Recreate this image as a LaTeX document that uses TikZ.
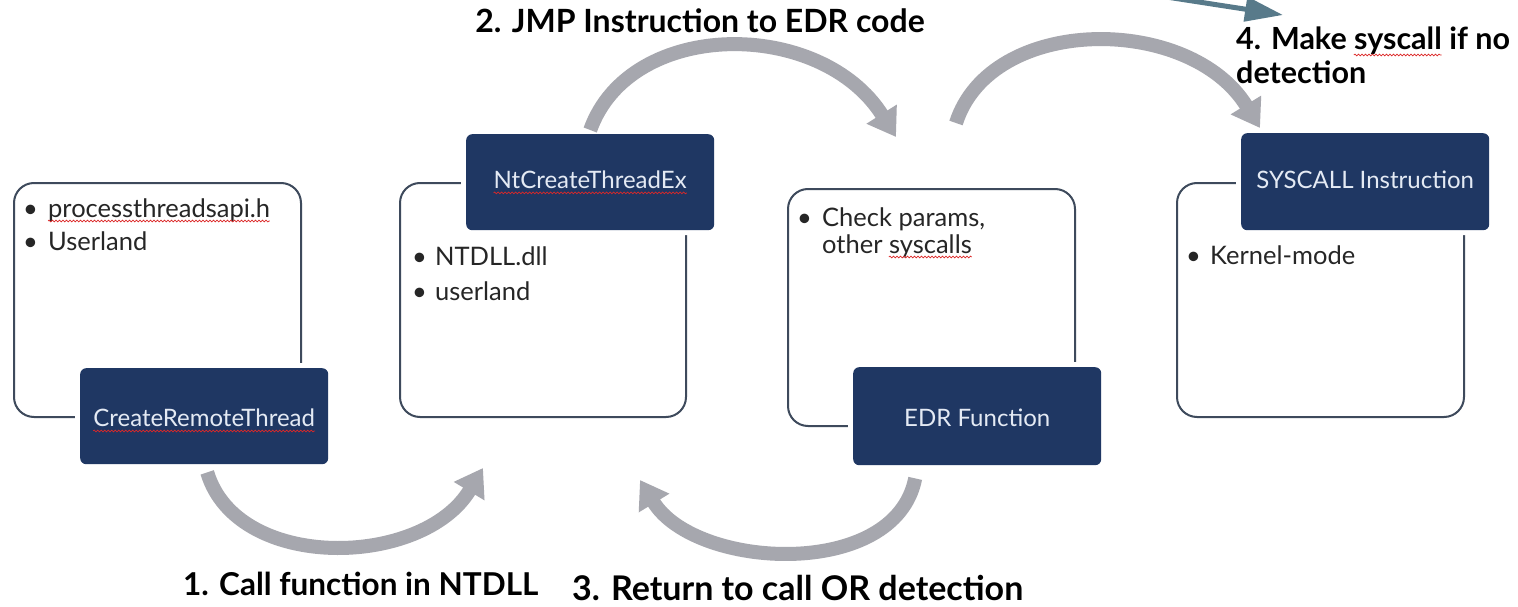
\documentclass[tikz,border=0pt]{standalone}
\usepackage{fontspec}
\setmainfont{Lato}
\usetikzlibrary{arrows.meta,calc,decorations.pathmorphing}
\definecolor{navy}{RGB}{31,55,99}
\definecolor{outl}{RGB}{62,74,92}
\definecolor{arrgray}{RGB}{166,167,174}
\definecolor{steel}{RGB}{88,122,138}
\definecolor{navytext}{RGB}{228,234,244}
\definecolor{bodytext}{RGB}{38,38,38}
\definecolor{spellred}{RGB}{220,40,40}
\newcommand\bulfont{\fontsize{25.5}{30}\selectfont}
\newcommand\navfont{\fontsize{24}{28}\selectfont}
\newcommand\labfourfont{\fontsize{30.5}{36}\selectfont\bfseries}
\newlength\wProc \newlength\wOther \newlength\wSysc \newlength\wMake \newlength\wSys
\begin{document}
\settowidth\wProc{\bulfont processthreadsapi.h}%
\settowidth\wOther{\bulfont other\ }%
\settowidth\wSysc{\bulfont syscalls}%
\settowidth\wMake{\labfourfont 4. Make\ }%
\settowidth\wSys{\labfourfont syscall}%
\begin{tikzpicture}[x=1pt,y=1pt,
  outbox/.style={draw=outl, line width=2pt, rounded corners=20pt, minimum width=287pt, minimum height=234pt, anchor=north west, inner sep=0pt},
  navbox/.style={fill=navy, rounded corners=6pt, minimum width=248pt, minimum height=96pt, anchor=north west, inner sep=0pt, preaction={draw=white, line width=10pt}},
  navtext/.style={inner sep=0pt, text=navytext, font=\navfont},
  bul/.style={anchor=base west, inner sep=0pt, text=bodytext, font=\bulfont},
  lab/.style={inner sep=0pt, text=black},
  wave/.style={draw=spellred, line width=0.7pt, decorate, decoration={snake, amplitude=0.9pt, segment length=3.5pt}},
  garrow/.style={draw=arrgray, line width=14pt, -{Triangle[width=34pt,length=27pt]}},
  barrow/.style={draw=steel, line width=5pt, -{Triangle[width=24pt,length=38pt]}}
]
\fill[white] (0,0) rectangle (1518,-607);
\useasboundingbox (0,0) rectangle (1518,-607);

% outline boxes
\node[outbox] (bx1) at (13,-182) {};
\node[outbox, minimum width=286pt] (bx2) at (399,-182) {};
\node[outbox, minimum height=237pt] (bx3) at (787,-188) {};
\node[outbox] (bx4) at (1176,-182) {};

% navy boxes
\node[navbox] (crt) at (80,-368) {};
\node[navbox] (ntc) at (466,-134) {};
\node[navbox, minimum height=98pt] (edr) at (853,-367) {};
\node[navbox, minimum height=97pt] (sysi) at (1241,-133) {};
\node[navtext] (crtt) at ($(crt.center)+(0,-2)$) {CreateRemoteThread};
\node[navtext] (ntct) at ($(ntc.center)+(0,2)$) {NtCreateThreadEx};
\node[navtext] (edrt) at ($(edr.center)+(0,-2)$) {EDR Function};
\node[navtext] (sysit) at ($(sysi.center)+(0,2)$) {SYSCALL Instruction};

% bullet texts
\node[bul] (t1a) at (23,-217) {\makebox[25pt][l]{\textbullet}processthreadsapi.h};
\node[bul] (t1b) at (23,-250) {\makebox[25pt][l]{\textbullet}Userland};
\node[bul] (t2a) at (412,-265) {\makebox[23pt][l]{\textbullet}NTDLL.dll};
\node[bul] (t2b) at (412,-300) {\makebox[23pt][l]{\textbullet}userland};
\node[bul] (t3a) at (797,-226) {\makebox[25pt][l]{\textbullet}Check params,};
\node[bul] (t3b) at (797,-253) {\makebox[25pt][l]{}other syscalls};
\node[bul] (t4a) at (1186,-264) {\makebox[24pt][l]{\textbullet}Kernel-mode};

% labels
\node[lab, anchor=base, font=\fontsize{32}{36}\selectfont\bfseries] (l2) at (700,-33) {2. JMP Instruction to EDR code};
\node[lab, anchor=base west, font=\fontsize{31.5}{36}\selectfont\bfseries] (l1) at (183,-595) {1. Call function in NTDLL};
\node[lab, anchor=base west, font=\fontsize{34}{38}\selectfont\bfseries] (l3) at (572,-600) {3. Return to call OR detection};
\node[lab, anchor=base west, font=\labfourfont] (l4a) at (1236,-50) {4. Make syscall if no};
\node[lab, anchor=base west, font=\labfourfont] (l4b) at (1236,-84) {detection};

% spell-check underlines
\draw[wave] ($(t1a.base west)+(25pt,-4)$) -- ++(\wProc,0);
\draw[wave] ($(t3b.base west)+(25pt,-4)$) ++(\wOther,0) -- ++(\wSysc,0);
\draw[wave] ($(l4a.base west)+(0,-5)$) ++(\wMake,0) -- ++(\wSys,0);
\draw[wave] ($(crtt.base west)+(0,-4)$) -- ($(crtt.base east)+(0,-4)$);
\draw[wave] ($(ntct.base west)+(0,-4)$) -- ($(ntct.base east)+(0,-4)$);

% arrow end points
\coordinate (a1s) at ($(crt.south)+(3,-8)$);
\coordinate (a1e) at ($(bx2.south west)+(84,-50)$);
\coordinate (a2s) at ($(ntc.north)+(0,4)$);
\coordinate (a2e) at ($(bx3.north)+(-35.5,51)$);
\coordinate (a3s) at ($(edr.south)+(-62,-13)$);
\coordinate (a3e) at ($(bx2.south east)+(-47,-62)$);
\coordinate (a4s) at ($(bx3.north)+(24.5,65)$);
\coordinate (a4e) at ($(sysi.north west)+(19,5)$);
\coordinate (bs) at (1160,4);
\coordinate (be) at (1283,-15);

% arrows
\draw[garrow] (a1s) .. controls +(30,-100) and +(-60,-100) .. (a1e);
\draw[garrow] (a2s) .. controls +(40,112) and +(-75,119) .. (a2e);
\draw[garrow] (a3s) .. controls +(-20,-102) and +(55,-90) .. (a3e);
\draw[garrow] (a4s) .. controls +(35,109) and +(-70,114) .. (a4e);
\draw[barrow] (bs) -- (be);
\end{tikzpicture}
\end{document}
